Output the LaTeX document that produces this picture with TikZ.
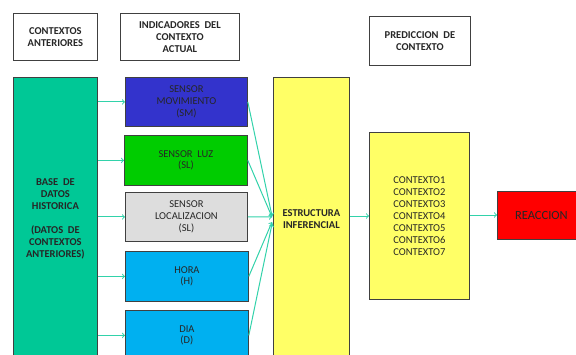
\documentclass[tikz,border=0pt]{standalone}
\usepackage{fontspec}
\setmainfont{Carlito}[BoldFont={Carlito Bold}]
\usetikzlibrary{shapes}
\usetikzlibrary{arrows}

\definecolor{verdebase}{RGB}{0,200,150}
\definecolor{azulmov}{RGB}{51,51,204}
\definecolor{verdeluz}{RGB}{0,204,0}
\definecolor{grisloc}{RGB}{221,221,221}
\definecolor{celeste}{RGB}{0,176,240}
\definecolor{amarillo}{RGB}{255,255,102}
\definecolor{rojo}{RGB}{255,0,0}
\definecolor{aqua}{RGB}{50,210,170}

\tikzset{
  caja/.style={draw=black!75,line width=0.8pt,inner sep=0pt,anchor=north west,align=center,text=black!85},
  negrita/.style={font=\fontsize{10.5}{12}\selectfont\bfseries},
  titulo/.style={caja,fill=white,negrita},
  sensor/.style={caja,minimum width=122,minimum height=49,font=\fontsize{10.5}{11.7}\selectfont},
  flecha/.style={->,draw=aqua,line width=1pt}
}

\begin{document}
\begin{tikzpicture}[x=1pt,y=-1pt]
				\useasboundingbox (0,0) rectangle (576,354);
				\clip (0,0) rectangle (576,354);
				% encabezados
				\node[titulo,minimum width=84,minimum height=47] (ant) at (13,13) {CONTEXTOS\\ANTERIORES};
				\node[titulo,minimum width=119,minimum height=47] (ind) at (120,13) {INDICADORES~~DEL\\CONTEXTO\\ACTUAL};
				\node[titulo,minimum width=101,minimum height=49] (pred) at (369,16) {PREDICCION~~DE\\CONTEXTO};
				% base de datos
				\node[caja,fill=verdebase,minimum width=84,minimum height=283,negrita] (base) at (13,77)
					{BASE~~DE\\DATOS\\HISTORICA\\ \\(DATOS~~DE\\CONTEXTOS\\ANTERIORES)};
				% sensores
				\node[sensor,fill=azulmov] (mov) at (125,77) {SENSOR\\MOVIMIENTO\\(SM)};
				\node[sensor,fill=verdeluz,minimum width=123,minimum height=50] (luz) at (124,135) {SENSOR~~LUZ\\(SL)};
				\node[sensor,fill=grisloc] (loc) at (125,192) {SENSOR\\LOCALIZACION\\(SL)};
				\node[sensor,fill=celeste,minimum width=123,minimum height=50] (hora) at (125,251) {HORA\\(H)};
				\node[sensor,fill=celeste,minimum width=123,minimum height=50] (dia) at (125,310) {DIA\\(D)};
				% inferencia y prediccion
				\node[caja,fill=amarillo,minimum width=76,minimum height=283,negrita] (est) at (273,77) {ESTRUCTURA\\INFERENCIAL};
				\node[caja,fill=amarillo,minimum width=100,minimum height=167,font=\fontsize{10.5}{12}\selectfont] (ctx) at (369,132)
					{CONTEXTO1\\CONTEXTO2\\CONTEXTO3\\CONTEXTO4\\CONTEXTO5\\CONTEXTO6\\CONTEXTO7};
				\node[caja,fill=rojo,minimum width=88,minimum height=48,font=\fontsize{12.5}{14}\selectfont] (reac) at (497,191) {REACCION};
				% flechas
				\coordinate (e1) at (272,216);
				\coordinate (e2) at (272,217);
				\coordinate (e3) at (272,217);
				\coordinate (e4) at (272,222);
				\coordinate (e5) at (272,224);
				\foreach \s in {mov,luz,loc,hora,dia}
					\draw[flecha] (base.east |- \s.west) -- (\s.west);
				\draw[flecha] (mov.east) -- (e1);
				\draw[flecha] (luz.east) -- (e2);
				\draw[flecha] (loc.east) -- (e3);
				\draw[flecha] (hora.east) -- (e4);
				\draw[flecha] (dia.east) -- (e5);
				\draw[flecha] (est.east |- 0,216) -- (ctx.west |- 0,216);
				\draw[flecha] (ctx.east |- 0,215) -- (reac.west |- 0,215);
			\end{tikzpicture}
\end{document}
